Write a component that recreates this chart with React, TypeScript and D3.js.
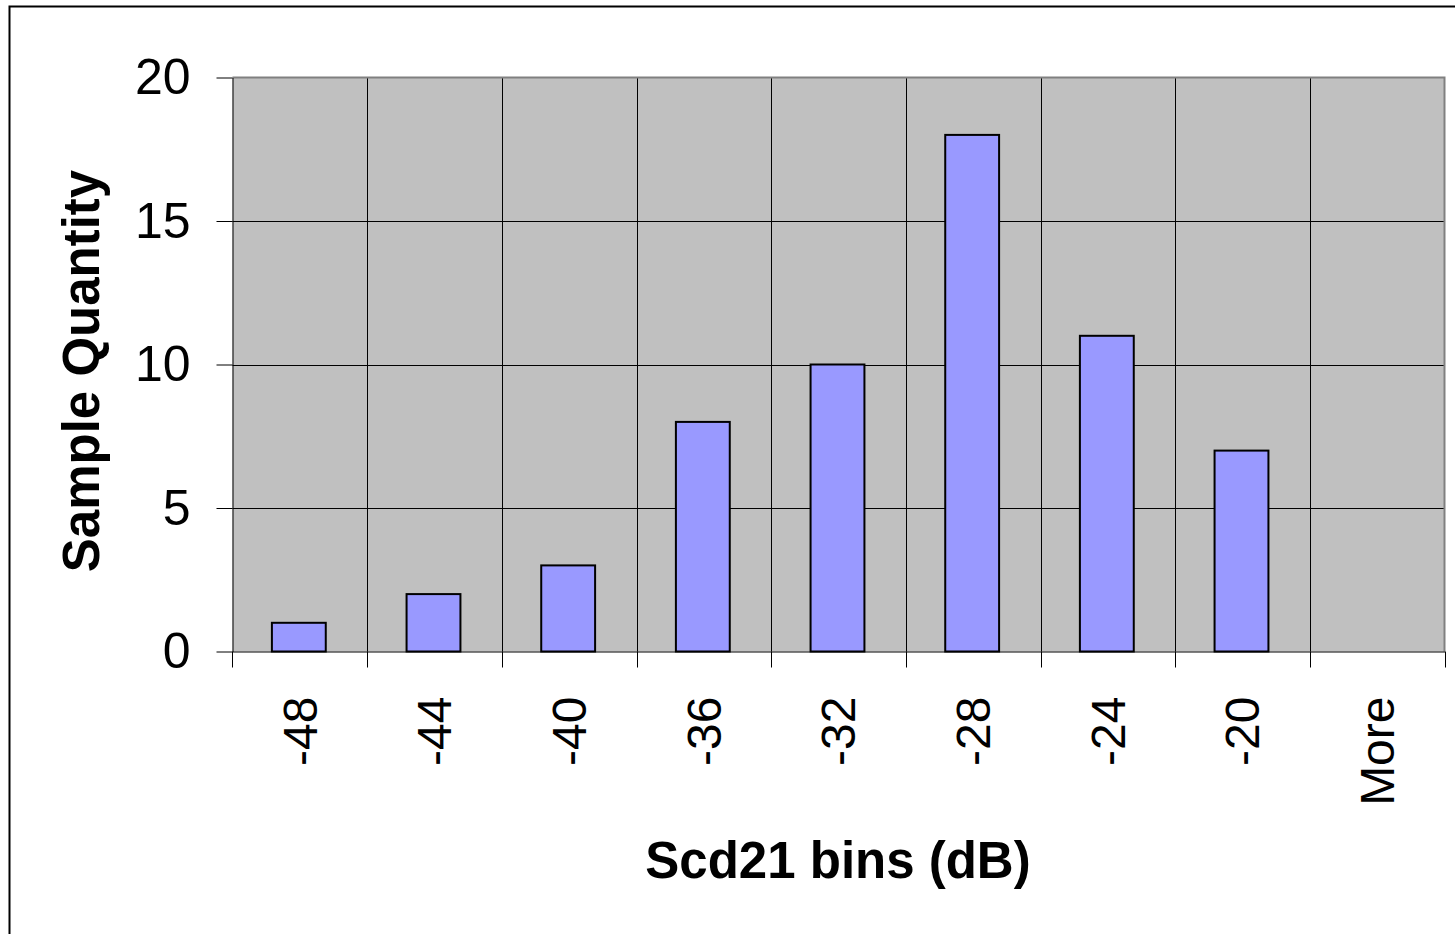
import { useRef, useEffect } from 'react';
import * as d3 from 'd3';

const bins = ['-48', '-44', '-40', '-36', '-32', '-28', '-24', '-20', 'More'];
const counts = [1, 2, 3, 8, 10, 18, 11, 7, 0];
const yTicks = [0, 5, 10, 15, 20];

const W = 1455;
const H = 934;

function Histogram() {
  const ref = useRef<SVGSVGElement | null>(null);

  useEffect(() => {
    const svg = d3.select(ref.current);
    svg.selectAll('*').remove();

    const left = 232.5;
    const right = 1444.5;
    const top = 77.5;
    const bottom = 651.5;
    const font = 'Arial, "Liberation Sans", sans-serif';

    // outer chart frame
    svg.append('rect')
      .attr('x', 9.5).attr('y', 6.5)
      .attr('width', W).attr('height', H)
      .attr('fill', '#fff').attr('stroke', '#000').attr('stroke-width', 2);

    const x = d3.scaleBand<string>().domain(bins).range([left, right]).paddingInner(0).paddingOuter(0);
    const y = d3.scaleLinear().domain([0, 20]).range([bottom, top]);

    // plot background
    svg.append('rect')
      .attr('x', left).attr('y', top)
      .attr('width', right - left).attr('height', bottom - top)
      .attr('fill', '#c0c0c0');

    // horizontal gridlines
    svg.append('g')
      .selectAll('line')
      .data(yTicks.filter(t => t > 0 && t < 20))
      .join('line')
      .attr('x1', left).attr('x2', right)
      .attr('y1', d => Math.round(y(d)) + 0.5).attr('y2', d => Math.round(y(d)) + 0.5)
      .attr('stroke', '#000').attr('stroke-width', 1);

    // vertical gridlines at category boundaries
    svg.append('g')
      .selectAll('line')
      .data(bins.slice(1))
      .join('line')
      .attr('x1', d => Math.round(x(d)!) + 0.5).attr('x2', d => Math.round(x(d)!) + 0.5)
      .attr('y1', top).attr('y2', bottom)
      .attr('stroke', '#000').attr('stroke-width', 1);

    // plot border top/right
    svg.append('path')
      .attr('d', `M${left},${top}H${right}V${bottom}`)
      .attr('fill', 'none').attr('stroke', '#808080').attr('stroke-width', 2);

    // bars
    const bw = x.bandwidth() * 0.4;
    svg.append('g')
      .selectAll('rect')
      .data(counts.map((c, i) => ({ bin: bins[i], c })).filter(d => d.c > 0))
      .join('rect')
      .attr('x', d => x(d.bin)! + (x.bandwidth() - bw) / 2 - 1)
      .attr('y', d => y(d.c))
      .attr('width', bw)
      .attr('height', d => bottom - y(d.c))
      .attr('fill', '#9999ff')
      .attr('stroke', '#000')
      .attr('stroke-width', 2);

    // y axis
    const yAxis = svg.append('g')
      .attr('transform', `translate(${left},0)`)
      .call(d3.axisLeft(y).tickValues(yTicks).tickSize(16).tickPadding(26).tickSizeOuter(0));
    yAxis.select('.domain').attr('stroke', '#000');
    yAxis.selectAll('.tick line').attr('stroke', '#000');
    yAxis.selectAll('.tick text')
      .attr('font-family', font).attr('font-size', 50).attr('fill', '#000');

    // x axis
    const xAxis = svg.append('g')
      .attr('transform', `translate(0,${bottom})`)
      .call(d3.axisBottom(x).tickSize(0).tickSizeOuter(0));
    xAxis.select('.domain').attr('stroke', '#000');
    xAxis.selectAll('.tick text')
      .attr('font-family', font).attr('font-size', 48).attr('fill', '#000')
      .attr('transform', 'rotate(-90)')
      .attr('text-anchor', 'end')
      .attr('x', -45).attr('y', 0).attr('dy', '0.35em');

    // x tick marks at category boundaries
    svg.append('g')
      .selectAll('line')
      .data([...bins.slice(1).map(b => x(b)!), right])
      .join('line')
      .attr('x1', d => Math.round(d) + 0.5).attr('x2', d => Math.round(d) + 0.5)
      .attr('y1', bottom).attr('y2', bottom + 16)
      .attr('stroke', '#000');
    svg.append('line')
      .attr('x1', left).attr('x2', left).attr('y1', bottom).attr('y2', bottom + 16)
      .attr('stroke', '#000');

    // axis titles
    svg.append('text')
      .attr('x', 838).attr('y', 878)
      .attr('text-anchor', 'middle')
      .attr('font-family', font).attr('font-size', 51).attr('font-weight', 'bold')
      .text('Scd21 bins (dB)');

    svg.append('text')
      .attr('transform', `translate(99,371) rotate(-90)`)
      .attr('text-anchor', 'middle')
      .attr('font-family', font).attr('font-size', 51).attr('font-weight', 'bold')
      .text('Sample Quantity');
  }, []);

  return <svg ref={ref} width={W} height={H} style={{ display: 'block' }}></svg>;
}

export default function App() {
  return (
    <div style={{ position: 'absolute', left: 0, top: 0, width: W, height: H, overflow: 'hidden', background: '#fff' }}>
      <Histogram />
    </div>
  );
}
